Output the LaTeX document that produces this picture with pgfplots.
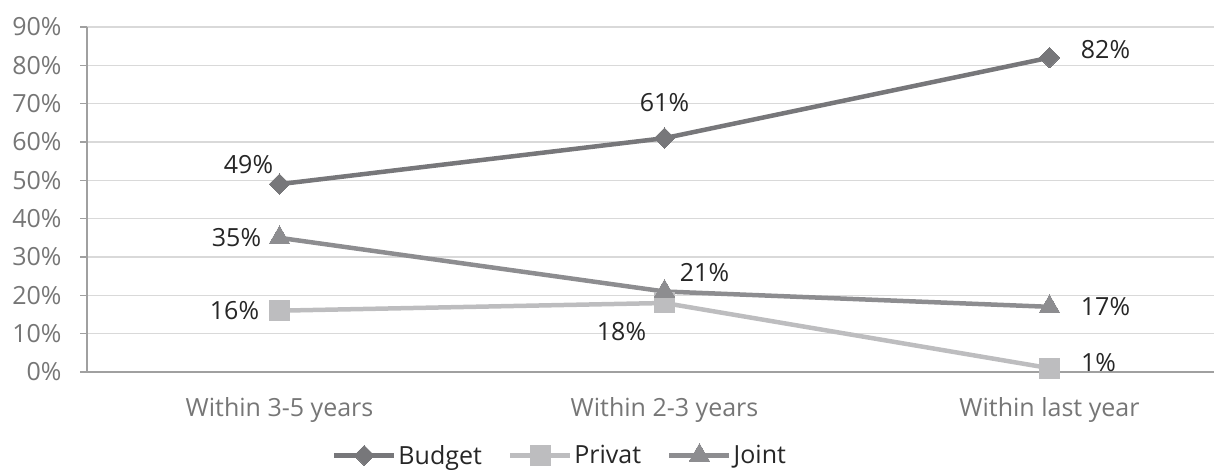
\documentclass[border=0pt]{standalone}
\usepackage{fontspec}
\setmainfont{Open Sans}
\usepackage{pgfplots}
\pgfplotsset{compat=1.18}
\usepackage{pgfplotstable}

\definecolor{cbudget}{HTML}{77777A}
\definecolor{cprivat}{HTML}{BDBDBF}
\definecolor{cjoint}{HTML}{8D8D90}
\definecolor{ctick}{HTML}{767676}
\definecolor{clabel}{HTML}{262626}
\definecolor{cgrid}{HTML}{D9D9D9}
\definecolor{caxis}{HTML}{A0A0A0}

% x: 0 = Within 3-5 years, 1 = Within 2-3 years, 2 = Within last year
% dx/dy: label offset from the point, in pt
\pgfplotstableread{
x y dx dy
0 49 -31 20
1 61 0 36
2 82 56 8
}\budget
\pgfplotstableread{
x y dx dy
0 16 -45 0
1 18 -43 -29
2 1 49 6
}\privat
\pgfplotstableread{
x y dx dy
0 35 -43 0
1 21 40 19
2 17 56 0
}\joint

\begin{document}
\begin{tikzpicture}
\useasboundingbox (0,0) rectangle (1214pt,473pt);
\begin{axis}[
    at={(87pt,101pt)}, anchor=south west,
    scale only axis,
    width=1155pt, height=345pt,
    xmin=-0.5, xmax=2.5,
    ymin=0, ymax=90,
    xtick={0,1,2},
    xticklabels={Within 3-5 years,Within 2-3 years,Within last year},
    minor xtick={-0.5,0.5,1.5,2.5},
    ytick={0,10,...,90},
    yticklabel={\pgfmathprintnumber{\tick}\%},
    ymajorgrids,
    grid style={cgrid, line width=1.5pt},
    axis x line*=bottom,
    axis y line*=left,
    axis line style={caxis, line width=1.5pt, -},
    tick align=outside,
    major tick length=7pt,
    minor tick length=7pt,
    tick style={caxis, line width=1.5pt},
    xtick style={draw=none},
    minor x tick style={caxis, line width=1.5pt},
    ticklabel style={font=\fontsize{25}{29}\selectfont, text=ctick},
    xticklabel style={yshift=-15pt},
    yticklabel style={xshift=-15pt},
    /pgf/number format/assume math mode=true,
    clip=false,
    nodes near coords={\pgfmathprintnumber{\pgfplotspointmeta}\%},
    point meta=explicit,
    visualization depends on={\thisrow{dx}\as\dx},
    visualization depends on={\thisrow{dy}\as\dy},
    every node near coord/.append style={font=\fontsize{25}{29}\selectfont, text=clabel,
        anchor=center, xshift=\dx pt, yshift=\dy pt},
    legend style={at={(0.4095,-0.242)}, anchor=center, draw=none, fill=none,
        legend columns=3, font=\fontsize{25}{29}\selectfont, text=clabel,
        /tikz/every even column/.append style={column sep=24pt}},
    legend image code/.code={
        \draw[#1, mark repeat=2, mark phase=2] plot coordinates {(0pt,0pt) (30pt,0pt) (60pt,0pt)};
    },
]
\addplot[cbudget, line width=4.5pt, mark=square*, mark size=7.2pt, mark options={solid, line width=0pt, rotate=45}]
    table[x=x, y=y, meta=y] {\budget};
\addlegendentry{Budget}
\addplot[cprivat, line width=4.5pt, mark=square*, mark size=10pt, mark options={solid, line width=0pt}]
    table[x=x, y=y, meta=y] {\privat};
\addlegendentry{Privat}
\addplot[cjoint, line width=4.5pt, mark=triangle*, mark size=12pt, mark options={solid, line width=0pt}]
    table[x=x, y=y, meta=y] {\joint};
\addlegendentry{Joint}
\end{axis}
\end{tikzpicture}
\end{document}
